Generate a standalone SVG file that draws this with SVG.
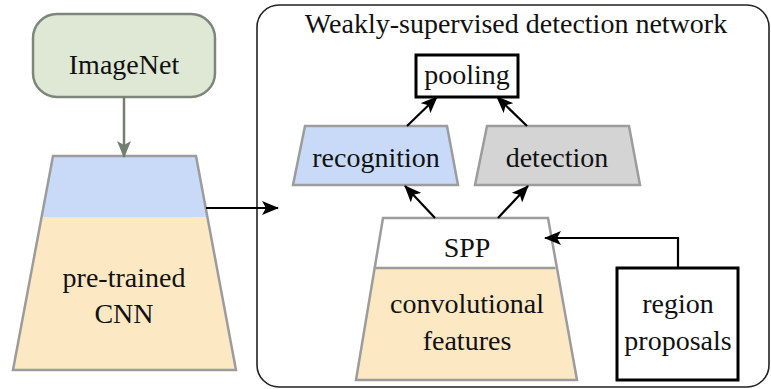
<svg xmlns="http://www.w3.org/2000/svg" width="771" height="389" viewBox="0 0 771 389" font-family="'Liberation Serif', 'Times New Roman', serif">
<style>
text{font-family:"Liberation Serif","Times New Roman",serif;font-size:28px;fill:#111;text-anchor:middle}
.trap{stroke:#9c9c9c;stroke-width:2.5;stroke-linejoin:miter}
.blue{fill:#c9daf8}
.beige{fill:#fce9c4}
.grey{fill:#d4d4d4}
.white{fill:#ffffff}
.box{fill:#fff;stroke:#000;stroke-width:3}
.conn{fill:none;stroke:#000;stroke-width:2.2}
</style>
<defs>
<marker id="ah" markerUnits="userSpaceOnUse" markerWidth="18" markerHeight="14" refX="16" refY="7" orient="auto">
<path d="M0,0 L17,7 L0,14 L4,7 z" fill="#000"/>
</marker>
<marker id="ahg" markerUnits="userSpaceOnUse" markerWidth="18" markerHeight="14" refX="16" refY="7" orient="auto">
<path d="M0,0 L17,7 L0,14 L4,7 z" fill="#737d72"/>
</marker>
</defs>
<rect width="771" height="389" fill="#fff"/>

<g id="network-frame">
<rect x="257" y="5" width="512" height="382" rx="22" ry="22" fill="none" stroke="#222" stroke-width="1.6"/>
<text x="516" y="33" font-size="28.3">Weakly-supervised detection network</text>
</g>

<g id="imagenet">
<rect x="33" y="14" width="182" height="83" rx="24" ry="24" fill="#dfe8d4" stroke="#7d867b" stroke-width="2.5"/>
<text x="124" y="74">ImageNet</text>
</g>

<g id="pretrained-cnn">
<polygon class="blue" points="53,156 196,156 207.5,217 41.5,217"/>
<polygon class="beige" points="41.5,217 207.5,217 236,370 13,370"/>
<polygon class="trap" fill="none" points="53,156 196,156 236,370 13,370"/>
<text x="124" y="287">pre-trained</text>
<text x="124" y="323">CNN</text>
</g>

<g id="pooling">
<rect class="box" x="416" y="55" width="102" height="42"/>
<text x="467" y="84">pooling</text>
</g>

<g id="recognition">
<polygon class="trap blue" points="305,126 447,126 458,185 293,185"/>
<text x="376" y="167">recognition</text>
</g>

<g id="detection">
<polygon class="trap grey" points="487,126 629,126 640,185 475,185"/>
<text x="557" y="167">detection</text>
</g>

<g id="spp-features">
<polygon class="white" points="383,218 548,218 555.5,268 375.5,268"/>
<polygon class="beige" points="375.5,268 555.5,268 577,380 356,380"/>
<line x1="375.5" y1="268" x2="555.5" y2="268" stroke="#9c9c9c" stroke-width="2.5"/>
<polygon class="trap" fill="none" points="383,218 548,218 577,380 356,380"/>
<text x="467" y="257">SPP</text>
<text x="467" y="313">convolutional</text>
<text x="467" y="350">features</text>
</g>

<g id="region-proposals">
<rect class="box" x="617" y="268" width="121" height="112"/>
<text x="678" y="313">region</text>
<text x="678" y="350">proposals</text>
</g>

<g id="connectors">
<line x1="124" y1="97" x2="124" y2="157" stroke="#737d72" stroke-width="2.5" marker-end="url(#ahg)"/>
<line class="conn" x1="206" y1="208" x2="278" y2="208" marker-end="url(#ah)"/>
<line class="conn" x1="407" y1="126" x2="437" y2="97" marker-end="url(#ah)"/>
<line class="conn" x1="527" y1="126" x2="497" y2="97" marker-end="url(#ah)"/>
<line class="conn" x1="435" y1="218" x2="405" y2="186" marker-end="url(#ah)"/>
<line class="conn" x1="498" y1="218" x2="528" y2="186" marker-end="url(#ah)"/>
<polyline class="conn" points="678,268 678,238 545,238" marker-end="url(#ah)"/>
</g>
</svg>
